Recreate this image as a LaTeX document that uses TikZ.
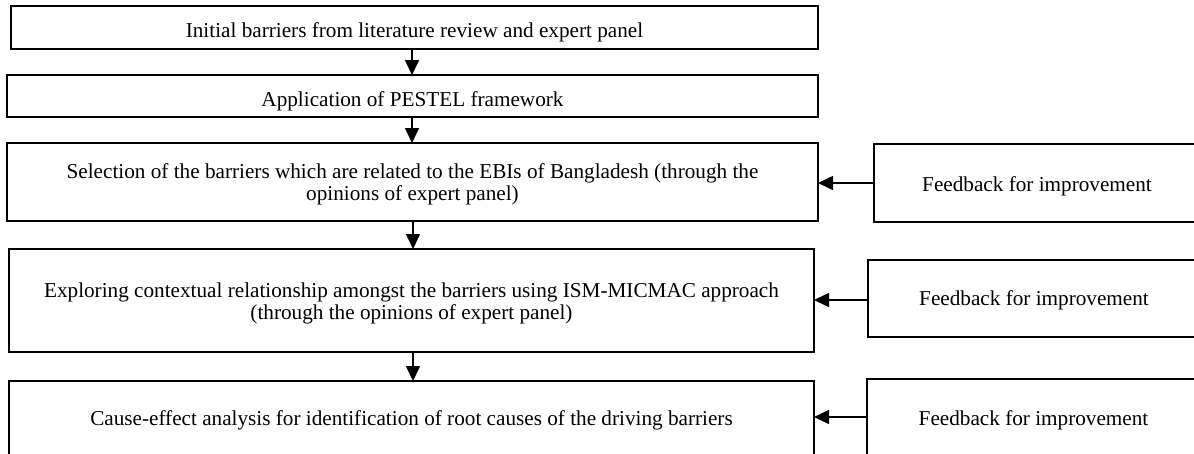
\documentclass[tikz,border=0pt]{standalone}
\usepackage{fontspec}
\setmainfont{Liberation Serif}
\usetikzlibrary{arrows.meta}
% text of a box, its first baseline raised by #1 from the box centre
\newcommand{\boxtext}[2]{\raisebox{#1}[0pt][0pt]{\begin{tabular}[t]{@{}c@{}}#2\end{tabular}}}
\begin{document}
\begin{tikzpicture}[x=1pt,y=-1pt,
  every node/.style={font=\fontsize{21.2}{22}\selectfont},
  stepbox/.style={draw=black,line width=1.6pt,fill=white,
    inner sep=0pt,outer sep=0pt},
  flow/.style={line width=1.6pt,-{Triangle[length=15pt,width=14pt]}}]
\useasboundingbox (0,0) rectangle (1194,453);
\clip (0,0) rectangle (1194,453);
% main sequence of steps
\node[stepbox,minimum width=807pt,minimum height=43pt] (s1) at (414.5,27.5)
  {\boxtext{-9.5pt}{Initial barriers from literature review and expert panel}};
\node[stepbox,minimum width=811pt,minimum height=42pt] (s2) at (412.5,96)
  {\boxtext{-10pt}{Application of PESTEL framework}};
\node[stepbox,minimum width=811pt,minimum height=78pt] (s3) at (412.5,182)
  {\boxtext{4pt}{Selection of the barriers which are related to the EBIs of Bangladesh (through the\\opinions of expert panel)}};
\node[stepbox,minimum width=805pt,minimum height=103pt] (s4) at (411.5,300.5)
  {\boxtext{3pt}{Exploring contextual relationship amongst the barriers using ISM-MICMAC approach\\(through the opinions of expert panel)}};
\node[stepbox,minimum width=805pt,minimum height=74pt] (s5) at (411.5,418)
  {\boxtext{-7pt}{Cause-effect analysis for identification of root causes of the driving barriers}};
% feedback boxes on the right
\node[stepbox,minimum width=326pt,minimum height=78pt] (f1) at (1037,183)
  {\boxtext{-8pt}{Feedback for improvement}};
\node[stepbox,minimum width=332pt,minimum height=77pt] (f2) at (1034,298.5)
  {\boxtext{-6.5pt}{Feedback for improvement}};
\node[stepbox,minimum width=333pt,minimum height=76pt] (f3) at (1033.5,417)
  {\boxtext{-8pt}{Feedback for improvement}};
% downward flow
\draw[flow] (s1.south -| 412,0) -- (s2.north -| 412,0);
\draw[flow] (s2.south -| 412,0) -- (s3.north -| 412,0);
\draw[flow] (s3.south -| 413,0) -- (s4.north -| 413,0);
\draw[flow] (s4.south -| 413,0) -- (s5.north -| 413,0);
% feedback loops
\draw[flow] (f1.west) -- (f1.west -| s3.east);
\draw[flow] (f2.west |- 0,300) -- (s4.east |- 0,300);
\draw[flow] (f3.west) -- (f3.west -| s5.east);
\end{tikzpicture}
\end{document}
